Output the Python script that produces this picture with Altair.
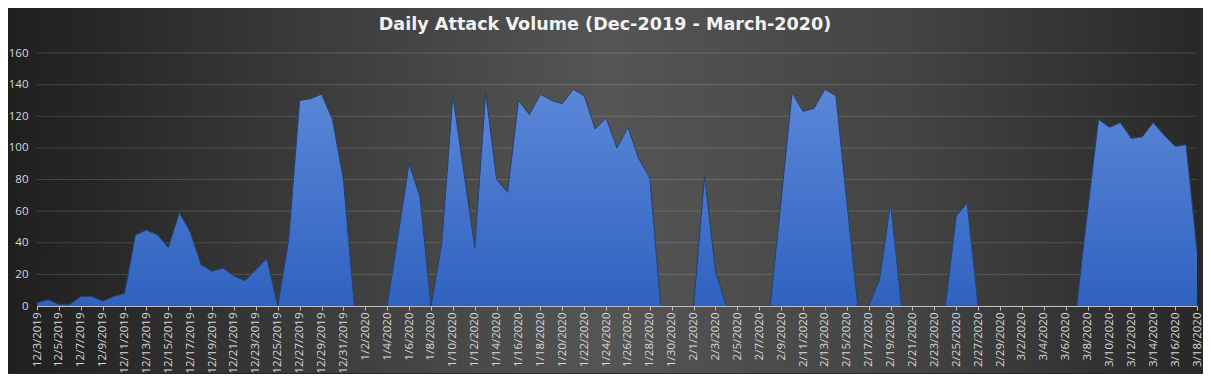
import altair as alt
import pandas as pd

# Category labels: one per day, 12/3/2019 .. 3/18/2020
dates = [f"{d.month}/{d.day}/{d.year}" for d in pd.date_range("2019-12-03", "2020-03-18")]

# Daily attack counts
attacks = [
    2, 4, 1, 1, 6, 6, 3, 6, 8, 45,
    48, 45, 37, 59, 47, 26, 22, 24, 19, 16,
    23, 30, 0, 42, 130, 131, 134, 118, 80, 0,
    0, 0, 0, 45, 90, 69, 0, 40, 133, 85,
    37, 135, 80, 72, 130, 121, 134, 130, 128, 137,
    133, 112, 119, 100, 113, 93, 81, 0, 0, 0,
    0, 82, 22, 0, 0, 0, 0, 0, 67, 135,
    123, 125, 137, 133, 66, 0, 0, 17, 65, 0,
    0, 0, 0, 0, 57, 65, 0, 0, 0, 0,
    0, 0, 0, 0, 0, 0, 60, 118, 113, 116,
    106, 107, 116, 108, 101, 102, 35,
]

y_ticks = [0, 20, 40, 60, 80, 100, 120, 140, 160]
x_ticks = dates[::2]
title_text = "Daily Attack Volume (Dec-2019 - March-2020)"

df = pd.DataFrame({"date": dates, "attacks": attacks})

W, H = 1160, 253
FONT = "Open Sans"

y_scale = alt.Scale(domain=[0, 160], nice=False)
y_axis = alt.Axis(
    title=None,
    values=y_ticks,
    labelColor="#d9d9d9",
    labelFontSize=11.5,
    labelFont=FONT,
    labelPadding=9,
    ticks=False,
    domain=False,
    grid=False,
    zindex=1,
)

bg = alt.Chart(alt.Data(values=[{"k": 1}])).mark_rect(
    color=alt.Gradient(
        gradient="linear",
        x1=0, y1=0, x2=1, y2=0,
        stops=[
            alt.GradientStop(color="#1f1f1f", offset=0),
            alt.GradientStop(color="#3b3b3b", offset=0.25),
            alt.GradientStop(color="#555555", offset=0.5),
            alt.GradientStop(color="#444444", offset=0.75),
            alt.GradientStop(color="#282828", offset=1),
        ],
    )
).encode(
    x=alt.value(-29), x2=alt.value(W + 6),
    y=alt.value(-45), y2=alt.value(H + 67),
)

title = alt.Chart(alt.Data(values=[{"t": title_text}])).mark_text(
    font="DejaVu Sans",
    fontSize=17.6,
    fontWeight="bold",
    color="#f2f2f2",
    align="center",
    baseline="middle",
).encode(
    x=alt.value(W / 2 - 12),
    y=alt.value(-28),
    text="t:N",
)

grid = alt.Chart(pd.DataFrame({"v": y_ticks})).mark_rule(
    color="#ffffff", opacity=0.15, strokeWidth=1
).encode(
    y=alt.Y("v:Q", axis=y_axis, scale=y_scale),
)

area = alt.Chart(df).mark_area(
    color=alt.Gradient(
        gradient="linear",
        x1=0, y1=0, x2=0, y2=1,
        stops=[
            alt.GradientStop(color="#5b87d8", offset=0),
            alt.GradientStop(color="#2f62c0", offset=1),
        ],
    ),
    opacity=1,
    line=alt.OverlayMarkDef(color="#23416f", strokeWidth=1),
    interpolate="linear",
).encode(
    x=alt.X(
        "date:O",
        sort=None,
        scale=alt.Scale(type="point", padding=0),
        axis=alt.Axis(
            title=None,
            values=x_ticks,
            labelAngle=-90,
            labelColor="#d9d9d9",
            labelFontSize=11.5,
            labelFont=FONT,
            labelPadding=2,
            tickSize=4,
            tickColor="#bfbfbf",
            domainColor="#bfbfbf",
            domainWidth=1,
            grid=False,
            zindex=1,
            labelOverlap=False,
        ),
    ),
    y=alt.Y("attacks:Q", scale=y_scale, axis=y_axis),
)

chart = alt.layer(bg, grid, area, title).properties(
    width=W,
    height=H,
    padding={"left": 0, "top": 0, "right": 0, "bottom": 0},
    background="#2a2a2a",
).configure_view(stroke=None)

chart.save("out.html", embed_options={"renderer": "svg", "actions": False})
